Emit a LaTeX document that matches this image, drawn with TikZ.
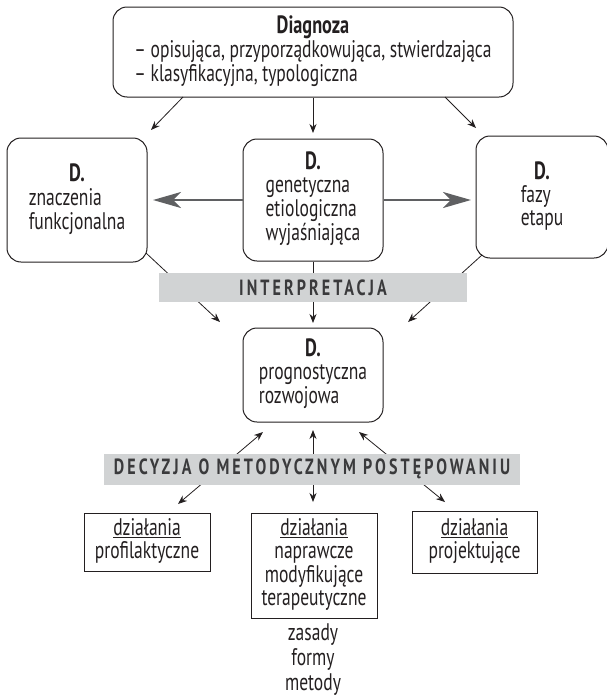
\documentclass[tikz,border=0pt]{standalone}
\usepackage{fontspec}
\setmainfont{PT Sans}[FakeStretch=0.73]
\usetikzlibrary{arrows.meta}
\definecolor{ink}{HTML}{231F20}
\definecolor{barfill}{HTML}{D1D3D4}
\definecolor{bartext}{HTML}{3A3A3C}
\definecolor{arrgray}{HTML}{5F6062}
\newcommand{\hd}[1]{{\fontsize{25}{23}\selectfont\bfseries #1}}
\begin{document}
\begin{tikzpicture}[x=1pt,y=-1pt,
  font=\fontsize{24}{23}\selectfont, text=ink,
  rbox/.style={draw=ink, line width=1pt, rounded corners=14pt, inner sep=0pt, fill=white},
  sbox/.style={draw=ink, line width=0.9pt, inner sep=0pt, fill=white},
  bar/.style={fill=barfill, inner sep=0pt, text=bartext,
    font=\fontsize{22}{20}\selectfont\bfseries\addfontfeature{LetterSpace=14}},
  thin/.style={draw=ink, line width=0.8pt, -{Stealth[length=9pt,width=7pt]}},
  both/.style={draw=ink, line width=0.8pt, {Stealth[length=9pt,width=7pt]}-{Stealth[length=9pt,width=7pt]}},
  thick/.style={draw=arrgray, line width=2.6pt, -{Stealth[length=28pt,width=16pt,inset=8pt]}},
  plain/.style={inner sep=0pt}
]
\useasboundingbox (0,0) rectangle (607,699);

% boxes
\node[rbox, minimum width=400pt, minimum height=90pt] (top) at (313,52)
  {\begin{tabular}{@{}l@{}}\multicolumn{1}{@{}c@{}}{\hd{Diagnoza}}\\
   – opisująca, przyporządkowująca, stwierdzająca\\
   – klasyfikacyjna, typologiczna\end{tabular}};
\node[rbox, minimum width=140pt, minimum height=124pt] (lb) at (77,200)
  {\begin{tabular}{@{}l@{}}\multicolumn{1}{@{}c@{}}{\hd{D.}}\\ znaczenia\\ funkcjonalna\end{tabular}};
\node[rbox, minimum width=140pt, minimum height=122pt] (mid) at (313,200)
  {\begin{tabular}{@{}l@{}}\multicolumn{1}{@{}c@{}}{\hd{D.}}\\ genetyczna\\ etiologiczna\\ wyjaśniająca\end{tabular}};
\node[rbox, minimum width=132pt, minimum height=122pt] (rb) at (542,197)
  {\begin{tabular}{@{}l@{}}\multicolumn{1}{@{}c@{}}{\hd{D.}}\\ fazy\\ etapu\end{tabular}};
\node[rbox, minimum width=140pt, minimum height=94pt] (prog) at (313,375)
  {\begin{tabular}{@{}l@{}}\multicolumn{1}{@{}c@{}}{\hd{D.}}\\ prognostyczna\\ rozwojowa\end{tabular}};

\node[sbox, minimum width=126pt, minimum height=58pt] (bl) at (147,542)
  {\begin{tabular}{@{}c@{}}\underline{działania}\\ profilaktyczne\end{tabular}};
\node[sbox, minimum width=126pt, minimum height=105pt] (bm) at (314,565.5)
  {\begin{tabular}{@{}c@{}}\underline{działania}\\ naprawcze\\ modyfikujące\\ terapeutyczne\end{tabular}};
\node[sbox, minimum width=125pt, minimum height=62pt] (br) at (474.5,542)
  {\begin{tabular}{@{}c@{}}\underline{działania}\\ projektujące\end{tabular}};
\node[plain, align=center, font=\fontsize{24}{25}\selectfont] (zas) at (313,660)
  {zasady\\ formy\\ metody};

% coordinates
\coordinate (a1s) at (183,97);  \coordinate (a1) at (151,130);
\coordinate (a2) at (313,133);
\coordinate (a3s) at (445,97);  \coordinate (a3) at (476,128);
\coordinate (g1) at (153,200);  \coordinate (g2) at (471,200);
\coordinate (lbc) at (146,253); \coordinate (i1) at (220,322);
\coordinate (i2) at (313,323);
\coordinate (rbc) at (482,255); \coordinate (i3) at (408,322);
\coordinate (d1a) at (178,504); \coordinate (d1b) at (263,432);
\coordinate (d2a) at (313,502); \coordinate (d2b) at (313,430);
\coordinate (d3a) at (445,502); \coordinate (d3b) at (359,432);

% connectors
\draw[thin] (a1s) -- (a1);
\draw[thin] (top.south) -- (a2);
\draw[thin] (a3s) -- (a3);
\draw[thick] (mid.west) -- (g1);
\draw[thick] (mid.east) -- (g2);
\draw[thin] (lbc) -- (i1);
\draw[thin] (mid.south) -- (i2);
\draw[thin] (rbc) -- (i3);
\draw[both] (d1a) -- (d1b);
\draw[both] (d2a) -- (d2b);
\draw[both] (d3a) -- (d3b);

% bars
\node[bar, minimum width=308pt, minimum height=29pt] (interp) at (313,287.5) {INTERPRETACJA};
\node[bar, minimum width=416pt, minimum height=31pt] (decyz) at (312,469) {DECYZJA O METODYCZNYM POSTĘPOWANIU};
\end{tikzpicture}
\end{document}
